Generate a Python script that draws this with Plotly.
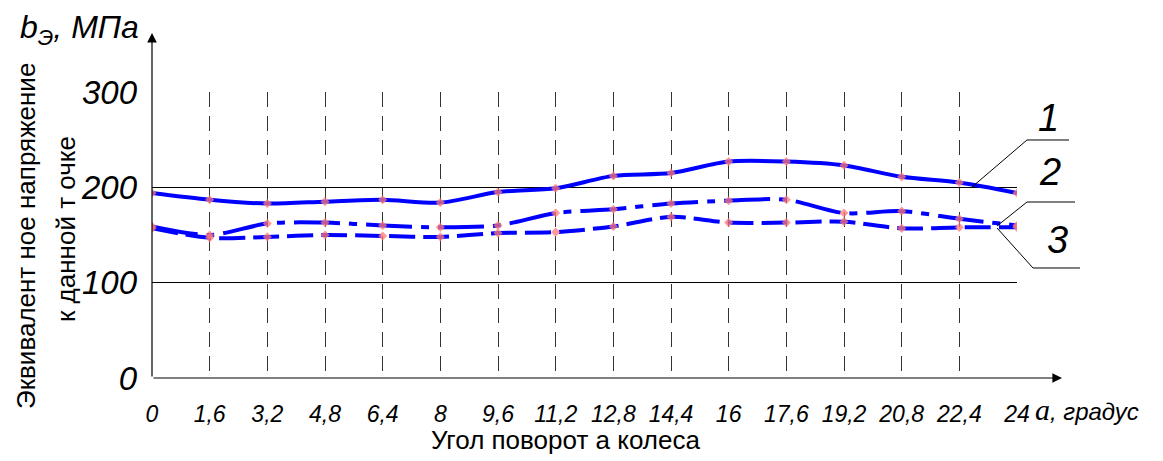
import plotly.graph_objects as go

angles = [0, 1.6, 3.2, 4.8, 6.4, 8, 9.6, 11.2, 12.8, 14.4, 16, 17.6, 19.2, 20.8, 22.4, 24]
tick_labels = ["0", "1,6", "3,2", "4,8", "6,4", "8", "9,6", "11,2", "12,8", "14,4", "16",
               "17,6", "19,2", "20,8", "22,4", "24"]
curve1 = [194, 187, 183, 185, 187, 184, 195, 199, 212, 215, 227, 227, 223, 211, 205, 194]
curve2 = [159, 150, 162, 163, 160, 158, 160, 173, 177, 183, 186, 187, 173, 175, 167, 160]
curve3 = [157, 147, 148, 150, 149, 148, 152, 153, 159, 169, 163, 163, 164, 157, 158, 158]
y_ticks = [0, 100, 200, 300]

FONT = "Liberation Sans, Arial"
OFF = 8  # page body margin
L, T = 152, 92          # plot origin in page pixels
PW, PH = 865, 286
W, H = 1163 - OFF, 461 - OFF
R = W - (L - OFF) - PW
B = H - (T - OFF) - PH


def px(x):
    return (x - L) / PW


def py(y):
    return (T + PH - y) / PH


fig = go.Figure()
for vals, dash in [(curve1, "solid"), (curve2, "46px,9px,8px,9px"), (curve3, "26px,8px")]:
    fig.add_trace(go.Scatter(
        x=angles, y=vals, mode="lines",
        line=dict(color="#0000ff", width=4, shape="spline", smoothing=0.8, dash=dash),
        showlegend=False, hoverinfo="skip"))
for vals in [curve1, curve2, curve3]:
    fig.add_trace(go.Scatter(
        x=angles, y=vals, mode="markers",
        marker=dict(symbol="diamond", size=7, color="rgba(255,120,120,0.75)"),
        showlegend=False, hoverinfo="skip"))

fig.update_layout(
    width=W, height=H,
    margin=dict(l=L - OFF, r=R, t=T - OFF, b=B, autoexpand=False),
    plot_bgcolor="white", paper_bgcolor="white",
    xaxis=dict(range=[0, 24], tickvals=angles, ticktext=tick_labels, tickangle=0,
               showgrid=True, gridcolor="#333", gridwidth=1, griddash="15px,9px",
               zeroline=False, showline=False, ticks="",
               tickfont=dict(family=FONT, size=23, color="black", style="italic"),
               ticklabelstandoff=20),
    yaxis=dict(range=[0, 300], tickvals=y_ticks, showgrid=True, gridcolor="black",
               gridwidth=1, zeroline=False, showline=False, ticks="",
               tickfont=dict(family=FONT, size=33, color="black", style="italic"),
               ticklabelstandoff=14),
)

# axis arrows
fig.add_annotation(x=px(152), y=py(33), xref="paper", yref="paper", ax=0, ay=345,
                   showarrow=True, arrowhead=2,
                   arrowsize=1.6, arrowwidth=1.2, arrowcolor="black", text="")
fig.add_annotation(x=px(1062), y=py(378), xref="paper", yref="paper", ax=-910, ay=0,
                   showarrow=True, arrowhead=2, arrowsize=1.6, arrowwidth=1.2,
                   arrowcolor="black", text="")

# leader lines
leaders = [
    [(972, 187), (1027, 140), (1069, 140)],
    [(997, 226), (1027, 202), (1075, 202)],
    [(997, 228), (1033, 268), (1080, 268)],
]
for pts in leaders:
    path = "M " + " L ".join(f"{px(a):.5f},{py(b):.5f}" for a, b in pts)
    fig.add_shape(type="path", path=path, xref="paper", yref="paper",
                  line=dict(color="black", width=1))


def label(text, x, y, size, angle=0, xanchor="center"):
    fig.add_annotation(x=px(x), y=py(y), xref="paper", yref="paper", text=text,
                       textangle=angle, showarrow=False, xanchor=xanchor,
                       yanchor="middle", font=dict(family=FONT, size=size, color="black"))


for txt, x, y in [("1", 1048, 118), ("2", 1050, 172), ("3", 1057, 240)]:
    label(f"<i>{txt}</i>", x, y, 38)

label("<i>b<sub>Э</sub>, МПа</i>", 79, 30, 32)
label("Эквивалент ное напряжение", 26, 236, 26, angle=-90)
label("к данной т очке", 66, 229, 26, angle=-90)
label("Угол поворот а колеса", 565, 440, 26)
label("<i><span style='font-family:Liberation Serif;font-size:30px'>a</span>, градус</i>",
      1033, 409, 24, xanchor="left")

fig.write_html("out.html")
